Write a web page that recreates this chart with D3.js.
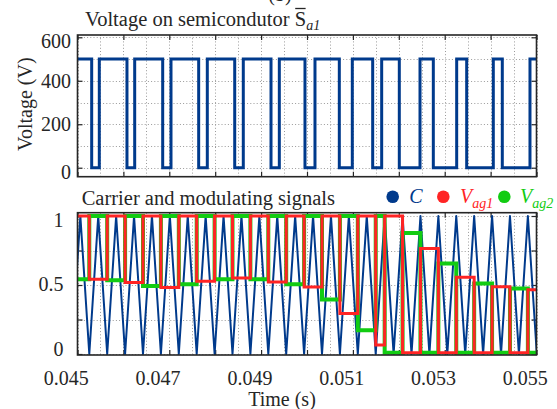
<!DOCTYPE html>
<html>
<head>
<meta charset="utf-8">
<script src="https://cdn.jsdelivr.net/npm/d3@7"></script>
<style>
  body { margin: 0; background: #fff; }
  svg { display: block; }
  text { font-family: "Liberation Serif", "DejaVu Serif", "Times New Roman", Times, serif; fill: #262626; }
</style>
</head>
<body>
<svg id="chart" width="557" height="409"></svg>
<script>
// ---- Switch voltage on S̄a1 (V): edge times (s) and level after each edge ----
const sa1Times = [0.045, 0.045309, 0.045475, 0.046078, 0.046246, 0.046856, 0.047037,
  0.047640, 0.047828, 0.048425, 0.048612, 0.049216, 0.049397, 0.049956, 0.050174,
  0.050704, 0.050987, 0.051431, 0.051627, 0.052011, 0.052462, 0.052752, 0.053261,
  0.053479, 0.054059, 0.054255, 0.054858];
const sa1Values = [500, 0, 500, 0, 500, 0, 500, 0, 500, 0, 500, 0, 500, 0, 500,
  0, 500, 0, 500, 0, 500, 0, 500, 0, 500, 0, 500];

// ---- Triangular carrier C: vertex times (s) ----
const carrierTroughs = [0.044867, 0.045257, 0.045647, 0.046037, 0.046427, 0.046817,
  0.047207, 0.047597, 0.047987, 0.048377, 0.048767, 0.049157, 0.049547, 0.049937,
  0.050327, 0.050717, 0.051107, 0.051497, 0.051887, 0.052277, 0.052667, 0.053057,
  0.053447, 0.053837, 0.054227, 0.054617, 0.055007];
const carrierPeaks = [0.045062, 0.045452, 0.045842, 0.046232, 0.046622, 0.047012,
  0.047402, 0.047792, 0.048182, 0.048572, 0.048962, 0.049352, 0.049742, 0.050132,
  0.050522, 0.050912, 0.051302, 0.051692, 0.052082, 0.052472, 0.052862, 0.053252,
  0.053642, 0.054032, 0.054422, 0.054812];

// ---- Sampled modulating signals: step times (s) shared by both ----
const modTimes = [0.045, 0.045257, 0.045647, 0.046037, 0.046427, 0.046817, 0.047207,
  0.047597, 0.047987, 0.048377, 0.048767, 0.049157, 0.049547, 0.049937, 0.050327,
  0.050717, 0.051107, 0.051497, 0.051692, 0.052082, 0.052472, 0.052862, 0.053252,
  0.053642, 0.054032, 0.054422, 0.054812];
const vag1Values = [1, 0.542, 1, 0.518, 1, 0.482, 1, 0.527, 1, 0.551, 1, 0.522, 1,
  0.486, 1, 0.294, 1, 0.065, 1, 0.01, 0.765, 0.01, 0.556, 0.01, 0.488, 0.01, 0.466];
const vag2Values = [0.542, 1, 0.534, 1, 0.493, 1, 0.505, 1, 0.542, 1, 0.542, 1, 0.505,
  1, 0.395, 1, 0.173, 1, 0.01, 0.876, 0.01, 0.655, 0.01, 0.51, 0.01, 0.474, 0.01];

// ---- Axis ticks and labels ----
const xDomain = [0.045, 0.055];
const xTickValues = d3.range(0, 11).map(i => 0.045 + i * 0.001);
const xGridValues = d3.range(0, 21).map(i => 0.045 + i * 0.0005);
const xLabelValues = [0.045, 0.047, 0.049, 0.051, 0.053, 0.055];
const topTickValues = [0, 200, 400, 600];
const topGridValues = [0, 100, 200, 300, 400, 500, 600];
const botTickValues = [0, 0.25, 0.5, 0.75, 1];
const botLabelValues = [0, 0.5, 1];

const FONT = '"Liberation Serif", "DejaVu Serif", "Times New Roman", Times, serif';
const colors = { switch: "#003a8c", carrier: "#003a8c", vag1: "#ff2424", vag2: "#12cc12" };

const svg = d3.select("#chart");
const x = d3.scaleLinear().domain(xDomain).range([77.5, 536.5]);
const yTop = d3.scaleLinear().domain([-41.4, 610.6]).range([176.7, 35]);
const yBot = d3.scaleLinear().domain([-0.0072, 1.0239]).range([355, 212.7]);

const defs = svg.append("defs");

function panel(id, y, gridY, tickY, labelY, labelShift, labelRight, showX) {
  const [y0, y1] = y.range();            // bottom, top pixel
  const [x0, x1] = x.range();
  defs.append("clipPath").attr("id", id)
    .append("rect").attr("x", x0).attr("y", y1).attr("width", x1 - x0).attr("height", y0 - y1);
  const g = svg.append("g");
  // dotted grid
  const grid = g.append("g").attr("stroke", "#9a9a9a").attr("stroke-width", 1)
    .attr("stroke-dasharray", "1,2.2");
  grid.selectAll(".gx").data(xGridValues).join("line")
    .attr("x1", d => Math.round(x(d)) + 0.5).attr("x2", d => Math.round(x(d)) + 0.5)
    .attr("y1", y1).attr("y2", y0);
  grid.selectAll(".gy").data(gridY).join("line")
    .attr("y1", d => Math.round(y(d)) + 0.5).attr("y2", d => Math.round(y(d)) + 0.5)
    .attr("x1", x0).attr("x2", x1);
  // inward ticks on all four sides
  const tickLen = 5;
  const axB = d3.axisBottom(x).tickValues(xTickValues).tickSizeInner(-tickLen).tickSizeOuter(0)
    .tickFormat(d => (showX && xLabelValues.some(v => Math.abs(v - d) < 1e-9)) ? d3.format(".3f")(d) : "");
  const axT = d3.axisTop(x).tickValues(xTickValues).tickSizeInner(-tickLen).tickSizeOuter(0).tickFormat("");
  const axL = d3.axisLeft(y).tickValues(tickY).tickSizeInner(-tickLen).tickSizeOuter(0)
    .tickFormat(d => labelY.includes(d) ? String(d) : "");
  const axR = d3.axisRight(y).tickValues(tickY).tickSizeInner(-tickLen).tickSizeOuter(0).tickFormat("");
  const styleAxis = sel => {
    sel.attr("font-family", FONT).attr("font-size", 20);
    sel.select(".domain").remove();
    sel.selectAll("line").attr("stroke", "#262626").attr("stroke-width", 1.2);
    sel.selectAll("text").attr("fill", "#262626");
  };
  const gb = g.append("g").attr("transform", `translate(0,${y0})`).call(axB).call(styleAxis);
  gb.selectAll("text").attr("y", 30).attr("dy", 0).attr("dx", -11.7);
  g.append("g").attr("transform", `translate(0,${y1})`).call(axT).call(styleAxis);
  const gl = g.append("g").attr("transform", `translate(${x0},0)`).call(axL).call(styleAxis);
  gl.selectAll(".tick text").attr("x", labelRight - x0).attr("dy", "0.33em")
    .attr("transform", d => `translate(0,${labelShift[d] || 0})`);
  g.append("g").attr("transform", `translate(${x1},0)`).call(axR).call(styleAxis);
  // plotting layer
  const plot = svg.append("g").attr("clip-path", `url(#${id})`);
  // frame drawn last
  svg.append("rect").attr("x", x0).attr("y", y1).attr("width", x1 - x0).attr("height", y0 - y1)
    .attr("fill", "none").attr("stroke", "#262626").attr("stroke-width", 1.6);
  return plot;
}

// ---------- Top panel: switch voltage ----------
const topPlot = panel("clipTop", yTop, topGridValues, topTickValues, topTickValues,
  { 600: 4, 0: 4 }, 71, false);
const stepLine = d3.line().curve(d3.curveStepAfter);
const sa1Pts = sa1Times.map((t, i) => [x(t), yTop(sa1Values[i])]);
sa1Pts.push([x(xDomain[1]) + 4, yTop(sa1Values[sa1Values.length - 1])]);
topPlot.append("path").attr("d", stepLine(sa1Pts)).attr("fill", "none")
  .attr("stroke", colors.switch).attr("stroke-width", 3).attr("stroke-linejoin", "miter");

// ---------- Bottom panel: carrier and modulating signals ----------
const botPlot = panel("clipBot", yBot, botTickValues, botTickValues, botLabelValues,
  { 1: 4, 0.5: -1.5, 0: -5 }, 63.5, true);

const carrierVerts = [];
carrierTroughs.forEach((t, i) => {
  carrierVerts.push([t, 0]);
  if (i < carrierPeaks.length) carrierVerts.push([carrierPeaks[i], 1]);
});
botPlot.append("path")
  .attr("d", d3.line().x(d => x(d[0])).y(d => yBot(d[1]))(carrierVerts))
  .attr("fill", "none").attr("stroke", colors.carrier).attr("stroke-width", 2)
  .attr("stroke-linejoin", "round");

function stepPath(values) {
  const pts = modTimes.map((t, i) => [x(t), yBot(values[i])]);
  pts.push([x(xDomain[1]) + 4, yBot(values[values.length - 1])]);
  return stepLine(pts);
}
botPlot.append("path").attr("d", stepPath(vag2Values)).attr("fill", "none")
  .attr("stroke", colors.vag2).attr("stroke-width", 4);
botPlot.append("path").attr("d", stepPath(vag1Values)).attr("fill", "none")
  .attr("stroke", colors.vag1).attr("stroke-width", 3);

// ---------- Titles and labels ----------
svg.append("text").attr("x", 280).attr("y", 0.5).attr("text-anchor", "middle")
  .attr("font-size", 20).text("(b)");

const t1 = svg.append("text").attr("x", 85).attr("y", 26).attr("font-size", 20.5);
t1.append("tspan").text("Voltage on semicondutor ");
t1.append("tspan").text("S");
t1.append("tspan").attr("font-size", 14).attr("font-style", "italic").attr("dy", 4).text("a1");
{
  const node = t1.node();
  const pre = "Voltage on semicondutor ".length;
  const sx = 85 + node.getSubStringLength(0, pre);
  const sw = node.getSubStringLength(pre, 1);
  svg.append("line").attr("x1", sx + 0.5).attr("x2", sx + sw - 0.5)
    .attr("y1", 8.5).attr("y2", 8.5).attr("stroke", "#262626").attr("stroke-width", 1.3);
}

svg.append("text").attr("x", 81.7).attr("y", 205).attr("font-size", 20.5)
  .text("Carrier and modulating signals");

svg.append("text").attr("transform", "translate(31.5,104.2) rotate(-90)")
  .attr("text-anchor", "middle").attr("font-size", 20).text("Voltage (V)");

svg.append("text").attr("x", 282).attr("y", 406).attr("text-anchor", "middle")
  .attr("font-size", 20).text("Time (s)");

// ---------- Legend ----------
const legendItems = [
  { cx: 392.7, tx: 409.3, color: colors.carrier, main: "C", sub: "" },
  { cx: 443.3, tx: 460, color: colors.vag1, main: "V", sub: "ag1" },
  { cx: 504.3, tx: 520, color: colors.vag2, main: "V", sub: "ag2" }
];
const lg = svg.append("g");
legendItems.forEach(it => {
  lg.append("circle").attr("cx", it.cx).attr("cy", 196.7).attr("r", 6.3).attr("fill", it.color);
  const t = lg.append("text").attr("x", it.tx).attr("y", 203).attr("font-size", 20)
    .attr("font-style", "italic").style("fill", it.color);
  t.append("tspan").text(it.main);
  if (it.sub) t.append("tspan").attr("font-size", 14).attr("dy", 5).text(it.sub);
});
</script>
</body>
</html>
